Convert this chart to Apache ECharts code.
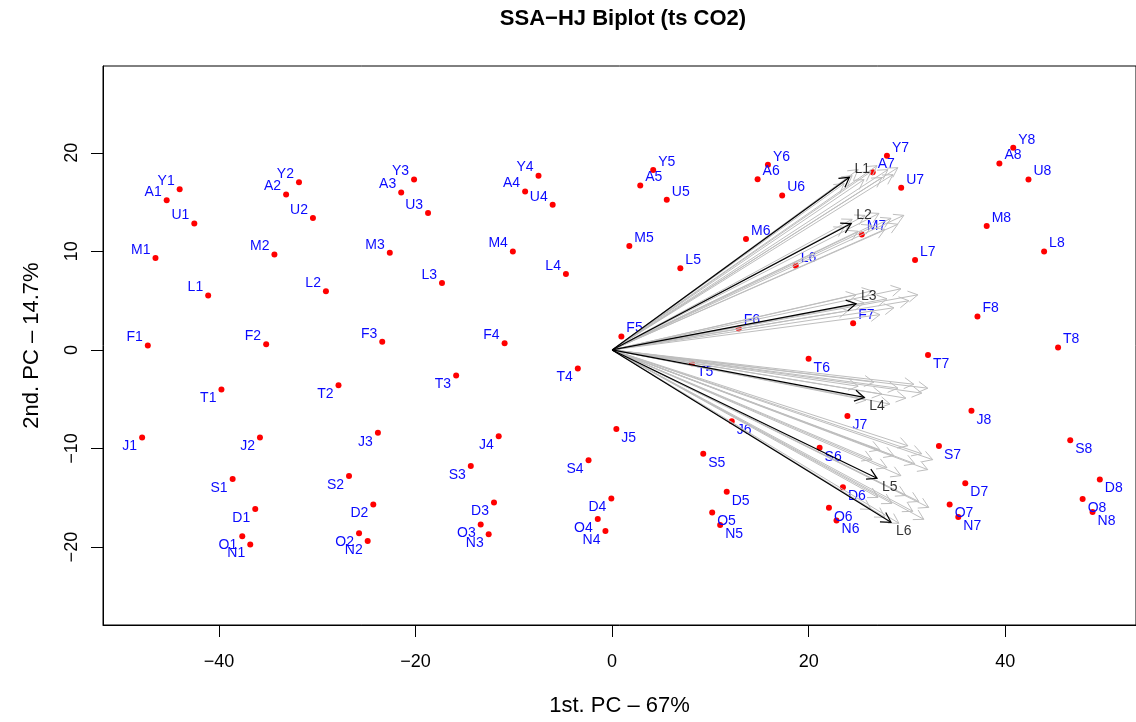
<!DOCTYPE html>
<html><head><meta charset="utf-8">
<script src="https://cdn.jsdelivr.net/npm/echarts@6/dist/echarts.min.js"></script>
<style>html,body{margin:0;padding:0;background:#fff;}#c{width:1136px;height:722px;}</style>
</head><body><div id="c"></div>
<script>
// Row (observation) points: month letter + year index
const pointLabels = [
 'J1','F1','M1','A1','Y1','U1','L1','T1','S1','O1','N1','D1',
 'J2','F2','M2','A2','Y2','U2','L2','T2','S2','O2','N2','D2',
 'J3','F3','M3','A3','Y3','U3','L3','T3','S3','O3','N3','D3',
 'J4','F4','M4','A4','Y4','U4','L4','T4','S4','O4','N4','D4',
 'J5','F5','M5','A5','Y5','U5','L5','T5','S5','O5','N5','D5',
 'J6','F6','M6','A6','Y6','U6','L6','T6','S6','O6','N6','D6',
 'J7','F7','M7','A7','Y7','U7','L7','T7','S7','O7','N7','D7',
 'J8','F8','M8','A8','Y8','U8','L8','T8','S8','O8','N8','D8'];
const pointX = [
 -47.82,-47.24,-46.46,-45.32,-44.00,-42.51,-41.10,-39.75,-38.61,-37.63,-36.82,-36.31,
 -35.83,-35.20,-34.36,-33.17,-31.86,-30.44,-29.12,-27.84,-26.77,-25.75,-24.87,-24.30,
 -23.83,-23.39,-22.62,-21.46,-20.15,-18.73,-17.31,-15.87,-14.38,-13.37,-12.56,-12.02,
 -11.54,-10.94,-10.10,-8.85,-7.49,-6.05,-4.70,-3.49,-2.40,-1.46,-0.68,-0.08,
 0.43,0.94,1.75,2.86,4.18,5.56,6.94,8.12,9.27,10.18,10.99,11.66,
 12.17,12.88,13.62,14.80,15.85,17.30,18.68,19.99,21.11,22.06,22.83,23.48,
 23.94,24.52,25.40,26.51,27.96,29.41,30.82,32.14,33.25,34.34,35.22,35.93,
 36.56,37.17,38.11,39.40,40.81,42.36,43.95,45.37,46.61,47.87,48.88,49.62];
const pointY = [
 -8.89,0.45,9.32,15.19,16.30,12.82,5.52,-4.01,-13.08,-18.89,-19.73,-16.14,
 -8.89,0.58,9.69,15.77,17.01,13.38,5.96,-3.58,-12.78,-18.59,-19.37,-15.67,
 -8.41,0.83,9.85,15.97,17.28,13.88,6.80,-2.60,-11.77,-17.71,-18.69,-15.47,
 -8.75,0.69,9.99,16.07,17.68,14.73,7.71,-1.89,-11.20,-17.15,-18.36,-15.06,
 -8.01,1.36,10.53,16.68,18.26,15.23,8.28,-1.36,-10.53,-16.50,-17.75,-14.39,
 -7.23,2.17,11.26,17.31,18.79,15.67,8.54,-0.89,-9.92,-16.00,-17.31,-13.92,
 -6.70,2.70,11.71,18.02,19.70,16.44,9.12,-0.52,-9.75,-15.67,-16.95,-13.52,
 -6.17,3.38,12.57,18.92,20.50,17.28,9.99,0.25,-9.15,-15.13,-16.44,-13.15];
// Highlighted column (variable) arrows
const arrowLabels = ['L1','L2','L3','L4','L5','L6'];
const arrowX = [24.14,24.32,24.82,25.66,26.95,28.37];
const arrowY = [17.51,12.82,4.69,-4.82,-13.02,-17.48];
// Remaining column arrows (grey)
const greyX = [
 23.61,24.42,25.03,25.63,26.34,26.95,27.45,28.06,28.57,29.07,
 23.61,24.42,25.03,25.73,26.44,27.15,27.76,28.37,29.07,29.68,
 24.01,24.82,25.63,26.44,27.25,27.96,28.67,29.38,30.19,31.10,
 25.03,25.83,26.64,27.45,28.26,29.07,29.88,30.69,31.50,32.11,
 26.44,27.25,27.96,28.67,29.38,30.09,30.79,31.50,32.11,32.62,
 26.34,27.05,27.76,28.47,29.18,29.88,30.59,31.20,31.71,32.21];
const greyY = [
 16.88,17.68,18.29,17.28,18.09,18.69,17.48,18.29,17.78,18.49,
 12.44,13.25,12.04,13.65,12.64,13.85,12.24,13.35,12.75,13.65,
 3.98,5.59,4.79,5.99,3.58,5.19,4.28,6.20,4.99,5.59,
 -3.68,-5.09,-3.27,-4.48,-5.49,-3.88,-4.89,-3.48,-4.38,-3.88,
 -11.13,-10.13,-11.94,-10.73,-12.75,-9.72,-11.54,-10.53,-12.14,-11.13,
 -16.17,-14.96,-16.98,-15.57,-17.58,-14.76,-16.37,-15.37,-17.18,-15.97];
const xTicks = [-40,-20,0,20,40];
const yTicks = [-20,-10,0,10,20];

const chart = echarts.init(document.getElementById('c'), null, {renderer:'canvas'});
const FONT = 'Liberation Sans, Arial, Helvetica, sans-serif';
const minus = v => String(v).replace('-', '\u2212');

function labelCfg(x, y, dist) {
  return {
    position: x < 0 ? 'left' : 'right',
    distance: dist,
    offset: [0, y > 0 ? -8 : 9]
  };
}
const pts = pointLabels.map((n, i) => ({
  name: n, value: [pointX[i], pointY[i]], label: labelCfg(pointX[i], pointY[i], 2)
}));
const arrowLab = arrowLabels.map((n, i) => ({
  name: n, value: [arrowX[i], arrowY[i]], label: labelCfg(arrowX[i], arrowY[i], 5)
}));

function arrowRender(color, width) {
  return function (params, api) {
    const p0 = api.coord([0, 0]);
    const p1 = api.coord([api.value(0), api.value(1)]);
    const ang = Math.atan2(p1[1] - p0[1], p1[0] - p0[0]);
    const L = 11, a = Math.PI / 6;
    const h1 = [p1[0] - L * Math.cos(ang - a), p1[1] - L * Math.sin(ang - a)];
    const h2 = [p1[0] - L * Math.cos(ang + a), p1[1] - L * Math.sin(ang + a)];
    return {
      type: 'group', children: [
        {type: 'line', shape: {x1: p0[0], y1: p0[1], x2: p1[0], y2: p1[1]}, style: {stroke: color, lineWidth: width}},
        {type: 'polyline', shape: {points: [h1, p1, h2]}, style: {stroke: color, lineWidth: width, fill: null}}
      ]
    };
  };
}

chart.setOption({
  animation: false,
  backgroundColor: '#fff',
  graphic: [{
    type: 'text', x: 623, y: 19, z: 10,
    style: {text: 'SSA\u2212HJ Biplot (ts CO2)', font: 'bold 22px ' + FONT, fill: '#000', textAlign: 'center', textVerticalAlign: 'middle'}
  }],
  grid: {left: 103, top: 66, width: 1038, height: 562, show: true, borderColor: '#000', borderWidth: 1, backgroundColor: 'transparent'},
  xAxis: {
    type: 'value', min: -51.8, max: 53.3,
    name: '1st. PC \u2013 67%', nameLocation: 'middle', nameGap: 70,
    nameTextStyle: {fontSize: 22, color: '#000', fontFamily: FONT},
    splitLine: {show: false},
    axisLine: {show: true, onZero: false, lineStyle: {color: '#000', width: 1}},
    axisTick: {show: true, length: 12, customValues: xTicks, lineStyle: {color: '#000'}},
    axisLabel: {customValues: xTicks, formatter: minus, fontSize: 18, color: '#000', margin: 28, fontFamily: FONT}
  },
  yAxis: {
    type: 'value', min: -27.9, max: 28.8,
    name: '2nd. PC \u2013 14.7%', nameLocation: 'middle', nameGap: 60,
    nameTextStyle: {fontSize: 22, color: '#000', fontFamily: FONT},
    splitLine: {show: false},
    axisLine: {show: true, onZero: false, lineStyle: {color: '#000', width: 1}},
    axisTick: {show: true, length: 12, customValues: yTicks, lineStyle: {color: '#000'}},
    axisLabel: {customValues: yTicks, formatter: minus, rotate: 90, fontSize: 18, color: '#000', margin: 22, fontFamily: FONT}
  },
  series: [
    {
      type: 'scatter', data: pts, symbol: 'circle', symbolSize: 6, z: 2,
      itemStyle: {color: '#ff0000', opacity: 1},
      label: {show: true, formatter: '{b}', color: '#0a0aff', fontSize: 14, fontFamily: FONT}
    },
    {
      type: 'custom', renderItem: arrowRender('#bebebe', 1), z: 3,
      data: greyX.map((x, i) => [x, greyY[i]])
    },
    {
      type: 'custom', renderItem: arrowRender('#000', 1.2), z: 4,
      data: arrowX.map((x, i) => [x, arrowY[i]])
    },
    {
      type: 'scatter', data: arrowLab, symbolSize: 0, z: 5, silent: true,
      itemStyle: {color: 'transparent'},
      label: {show: true, formatter: '{b}', color: '#000', fontSize: 14, fontFamily: FONT}
    }
  ]
});
</script></body></html>
